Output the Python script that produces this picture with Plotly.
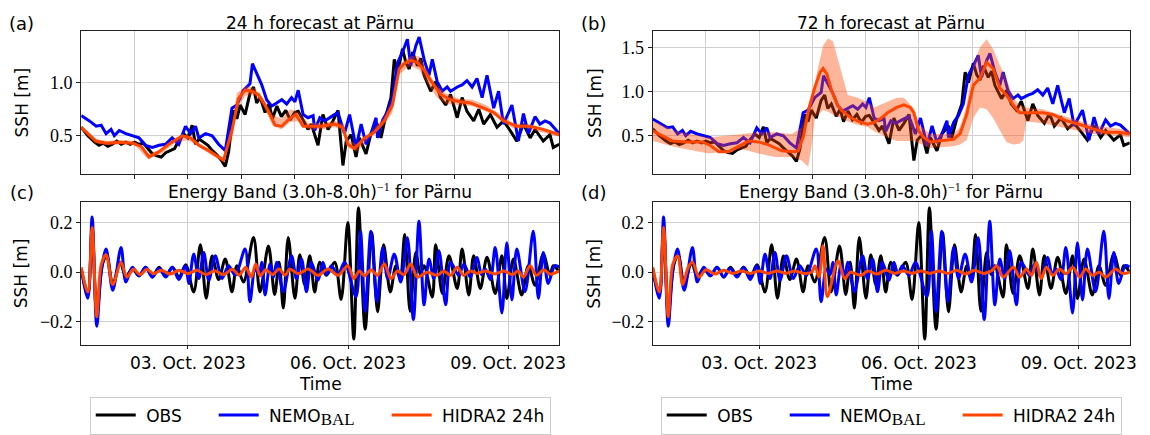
import pandas as pd
import plotly.graph_objects as go

W, H = 1150, 435
T0 = pd.Timestamp("2023-10-01 00:00")
SANS = "DejaVu Sans"
SERIF = "Liberation Serif"

# ---------------- data (hours since 2023-10-01 00:00, SSH in m) ----------------
obs_h = [0, 3, 6, 8, 10, 12, 14, 16, 18, 20, 22, 24, 26, 28, 30, 32, 34, 36, 38, 40,
         42, 44, 46, 48, 49.9, 51.4, 53, 55, 57, 59, 61, 63, 64.8, 66.3, 68.5, 70, 71.5, 73.7, 75.9, 77.5,
         78.9, 80.5, 82.7, 84.5, 86, 88, 90, 92, 94, 96, 97.6, 99.8, 102, 103.5, 106.5, 108.7, 111, 113.2, 115.5, 117.7,
         119.2, 121.4, 123.6, 125.1, 128.1, 130.3, 133.3, 134.8, 137, 139.3, 140.8, 142.3, 144.5, 146, 147.5, 149, 151.2, 152.7, 154.2, 157.2,
         159.4, 161.6, 163.9, 166.1, 169.1, 171.3, 173.5, 176.5, 178.8, 181, 184, 187, 189.9, 192.9, 195.9, 198.9, 201.9, 204.1, 206.3, 207.8,
         210.8, 212.3, 215]
obs_v = [0.58, 0.50, 0.44, 0.41, 0.43, 0.40, 0.42, 0.45, 0.42, 0.44, 0.42, 0.44, 0.42, 0.43, 0.38, 0.33, 0.31, 0.30, 0.34, 0.36,
         0.38, 0.46, 0.52, 0.48, 0.60, 0.42, 0.47, 0.44, 0.41, 0.36, 0.32, 0.27, 0.21, 0.35, 0.74, 0.66, 0.79, 0.70, 0.90, 0.96,
         0.81, 0.86, 0.72, 0.80, 0.66, 0.78, 0.68, 0.74, 0.65, 0.72, 0.73, 0.65, 0.56, 0.61, 0.41, 0.70, 0.56, 0.64, 0.74, 0.22,
         0.45, 0.51, 0.30, 0.48, 0.33, 0.52, 0.61, 0.48, 0.69, 0.86, 1.22, 1.10, 1.32, 1.19, 1.13, 1.29, 1.16, 1.23, 1.07, 0.92,
         1.01, 0.86, 0.79, 0.89, 0.67, 0.86, 0.73, 0.64, 0.75, 0.61, 0.70, 0.58, 0.64, 0.55, 0.45, 0.61, 0.48, 0.56, 0.50, 0.45,
         0.51, 0.39, 0.42]

nemo_h = [0, 3.7, 6.7, 9, 11.2, 13.4, 14.9, 17.1, 20.1, 23.1, 26, 29, 32, 35, 37.9, 40.9, 43.9, 46.9, 49.2, 51.4,
          52.9, 55.9, 58.9, 61.8, 64.8, 67.8, 70, 73, 75.9, 77, 78.9, 81.2, 83.4, 85.7, 87.9, 90.2, 92.4, 94.6, 96.1, 97.6,
          99.8, 102, 104.3, 105, 107.3, 109.5, 113.2, 115.5, 118.4, 120.7, 123.6, 125.9, 128.1, 130.3, 132.6, 133.3, 135.6, 137.8, 140, 142.3,
          144.5, 146.7, 148.2, 150.5, 152, 154.2, 156.4, 157.9, 160.1, 162.4, 164.6, 166.1, 169.1, 171.3, 173.5, 175.8, 178, 180.3, 182.5, 185.5,
          187.7, 189.9, 193.7, 196.6, 198.9, 201.1, 204.1, 206.3, 208.6, 210.8, 215]
nemo_v = [0.69, 0.64, 0.59, 0.60, 0.52, 0.56, 0.50, 0.55, 0.52, 0.50, 0.48, 0.41, 0.39, 0.41, 0.42, 0.48, 0.42, 0.59, 0.52, 0.59,
          0.48, 0.52, 0.50, 0.42, 0.36, 0.76, 0.79, 0.93, 0.99, 1.18, 1.09, 0.98, 0.84, 0.78, 0.81, 0.84, 0.80, 0.86, 0.82, 0.93,
          0.70, 0.67, 0.69, 0.55, 0.67, 0.64, 0.69, 0.72, 0.52, 0.70, 0.39, 0.61, 0.42, 0.52, 0.67, 0.48, 0.65, 0.73, 0.86, 1.19,
          1.29, 1.41, 1.16, 1.35, 1.43, 1.22, 1.07, 1.22, 1.01, 0.92, 0.96, 0.92, 0.96, 0.98, 1.02, 0.96, 1.04, 0.86, 1.07, 0.76,
          0.92, 0.61, 0.79, 0.45, 0.71, 0.52, 0.68, 0.61, 0.64, 0.62, 0.52]

h24_h = [0, 6.7, 11.2, 17, 23.1, 27, 30.5, 35, 39.4, 45.4, 49.2, 52.9, 57.4, 61.8, 64, 67.8, 70.7, 73.7, 76.7, 79.7,
         82.7, 84.9, 87.2, 90.2, 93.1, 96.5, 99.8, 103.5, 108, 114, 117.7, 119.9, 122.9, 127.4, 131.8, 136.3, 140, 143, 145.2, 148.2,
         151.2, 154.2, 157.2, 161.6, 166.1, 170.6, 175, 181, 185.5, 189.9, 195.9, 201.9, 207.8, 215]
h24_v = [0.58, 0.45, 0.43, 0.44, 0.43, 0.40, 0.30, 0.35, 0.42, 0.50, 0.48, 0.41, 0.36, 0.30, 0.27, 0.55, 0.85, 0.93, 0.92, 0.89,
         0.79, 0.70, 0.60, 0.59, 0.65, 0.70, 0.59, 0.59, 0.59, 0.61, 0.58, 0.42, 0.38, 0.48, 0.53, 0.64, 0.79, 1.13, 1.18, 1.21,
         1.19, 1.12, 1.02, 0.89, 0.84, 0.82, 0.81, 0.76, 0.72, 0.64, 0.59, 0.59, 0.56, 0.51]

h24_band_h = [0, 6, 12, 18, 24, 30, 36, 42, 48, 54, 60, 64, 68, 70, 74, 78, 82, 86, 90, 94, 98, 102, 108, 114, 118, 120,
              124, 130, 136, 140, 143, 148, 152, 156, 160, 164, 170, 176, 182, 188, 194, 200, 206, 215]
h24_band_hi = [0.60, 0.47, 0.45, 0.46, 0.45, 0.33, 0.37, 0.47, 0.51, 0.42, 0.34, 0.29, 0.62, 0.90, 0.97, 0.95, 0.85, 0.70, 0.66,
               0.75, 0.72, 0.62, 0.62, 0.64, 0.61, 0.46, 0.42, 0.53, 0.67, 0.84, 1.17, 1.25, 1.25, 1.10, 0.97, 0.90, 0.85, 0.84,
               0.79, 0.71, 0.62, 0.61, 0.58, 0.53]
h24_band_lo = [0.56, 0.43, 0.41, 0.42, 0.41, 0.28, 0.33, 0.43, 0.46, 0.38, 0.30, 0.25, 0.48, 0.76, 0.88, 0.88, 0.78, 0.60, 0.56,
               0.63, 0.64, 0.56, 0.56, 0.58, 0.55, 0.39, 0.35, 0.49, 0.60, 0.72, 1.08, 1.16, 1.12, 0.98, 0.86, 0.80, 0.79, 0.78,
               0.73, 0.67, 0.57, 0.57, 0.54, 0.49]

h72_h = [0, 4.5, 9, 15, 22.4, 26, 29.8, 34.3, 38, 43.2, 47.7, 52, 58.1, 64.1, 65.6, 68, 70.1, 73.1, 75.5, 76.8,
         78.5, 80.5, 83, 85, 89.5, 93, 96.9, 99.8, 103, 105.8, 110, 113.2, 116, 117.7, 119.9, 122.1, 125.1, 129.6, 135.6, 138.5,
         141.5, 144.5, 147.5, 150.5, 153.4, 156.4, 159.4, 162.4, 165.3, 168.3, 175.8, 180.2, 186.2, 192.2, 198.1, 204.1, 210, 215]
h72_v = [0.555, 0.50, 0.44, 0.43, 0.43, 0.39, 0.32, 0.32, 0.37, 0.44, 0.43, 0.40, 0.33, 0.32, 0.33, 0.50, 0.78, 1.05, 1.22, 1.26,
         1.20, 1.02, 0.86, 0.79, 0.70, 0.66, 0.63, 0.65, 0.70, 0.76, 0.82, 0.85, 0.82, 0.76, 0.555, 0.48, 0.43, 0.44, 0.46, 0.52,
         0.74, 1.07, 1.15, 1.33, 1.26, 1.04, 0.96, 0.85, 0.76, 0.76, 0.76, 0.74, 0.67, 0.63, 0.58, 0.54, 0.54, 0.52]

h72_band_h = [0, 10.4, 25.3, 40.2, 47.7, 55.1, 62.6, 67.1, 70.1, 72, 73.1, 76.8, 79, 81.2, 85, 87.9, 92.4, 96.9, 99.8, 105.8,
              110, 113.2, 117.7, 120, 125, 135.6, 138.5, 141.5, 144.5, 147.5, 150.5, 153.4, 156.4, 159.4, 162.4, 165.3, 167,
              168.3, 175.8, 186.2, 198.1, 210, 215]
h72_band_hi = [0.67, 0.55, 0.48, 0.52, 0.54, 0.54, 0.52, 0.59, 0.85, 1.0, 1.11, 1.52, 1.60, 1.57, 1.22, 0.96, 0.93, 0.88, 0.82,
               0.88, 0.93, 0.93, 0.81, 0.63, 0.52, 0.52, 0.60, 0.85, 1.30, 1.50, 1.59, 1.48, 1.30, 1.15, 0.93, 0.85, 0.83, 0.82,
               0.80, 0.72, 0.62, 0.58, 0.56]
h72_band_lo = [0.44, 0.37, 0.30, 0.35, 0.30, 0.26, 0.26, 0.22, 0.15, 0.45, 0.70, 0.79, 0.77, 0.74, 0.70, 0.66, 0.62, 0.60, 0.55,
               0.48, 0.44, 0.44, 0.44, 0.42, 0.36, 0.38, 0.40, 0.45, 0.70, 0.82, 0.80, 0.70, 0.56, 0.43, 0.40, 0.41, 0.45, 0.66,
               0.64, 0.58, 0.52, 0.50, 0.48]

# band-passed (3h-8h) signals: extrema
obs_bp_h = [0, 3.0, 4.9, 7.0, 9.5, 11.5, 14.2, 17.5, 20.1, 23, 26, 29, 32, 35, 38, 41, 44, 47, 50.6, 53.6,
            56.2, 58.9, 61.8, 64.8, 67.8, 70.0, 73.0, 77.5, 80.4, 84.2, 87.0, 89.0, 90.9, 93.1, 96.1, 98.3, 100.5, 102.8, 105.0, 107.3,
            110.2, 114.0, 116.9, 119.9, 122.6, 124.7, 127.7, 130.6, 133.3, 136.0, 139.0, 141.5, 143.5, 145.5, 147.9, 150.5, 152.5, 154.2, 157.9, 159.4,
            162.4, 165.4, 169.1, 171.3, 174.3, 176.5, 179.5, 182.5, 186.2, 189.2, 191.4, 194.4, 198.1, 201.1, 204.1, 207.8, 210.8, 212.3, 215]
obs_bp_v = [0.01, -0.09, 0.18, -0.17, 0.03, 0.07, -0.05, 0.04, -0.02, 0.015, -0.015, 0.02, -0.02, 0.02, -0.015, 0.02, -0.02, 0.03, -0.08, 0.11,
            -0.105, 0.065, -0.03, 0.053, -0.079, 0.026, -0.04, 0.14, -0.08, 0.105, -0.09, 0.04, -0.145, 0.14, -0.105, 0.07, -0.05, 0.066, -0.08, 0.04,
            -0.013, 0.04, -0.11, 0.20, -0.27, 0.26, -0.23, 0.16, -0.16, 0.11, -0.08, 0.026, -0.03, 0.152, -0.158, 0.079, -0.01, 0.026, -0.10, 0.11,
            -0.086, 0.066, -0.066, 0.093, -0.092, 0.066, -0.066, 0.060, -0.086, 0.066, -0.106, 0.053, -0.092, 0.026, -0.053, 0.073, -0.013, 0.026, 0.0]

nemo_bp_h = [0, 3.0, 4.9, 7.0, 9.0, 11.2, 14.2, 17.9, 20.1, 23, 26, 29, 32, 35, 38, 41, 43.9, 46.9, 48.4, 50.6,
             52.9, 55.1, 57.4, 60.3, 63.3, 66.3, 69.3, 73.7, 75.9, 78.2, 80, 81.2, 82.7, 84.9, 86.5, 87.9, 90.9, 94.6, 96.8, 99.1,
             101.3, 103.5, 106.5, 108.7, 110.5, 112.5, 115.5, 118.4, 123.6, 125.6, 127.7, 130.3, 133.0, 135.6, 137.8, 140.8, 143.7, 146.7, 149.4, 151.9,
             154.2, 156.4, 158.6, 160.9, 163.9, 166.1, 169.8, 172.1, 175.0, 178.0, 180, 181.7, 184, 186.2, 189.2, 191.4, 193.7, 195.9, 199.6, 203.3,
             205.6, 207.8, 210.0, 213.0, 215]
nemo_bp_v = [0.013, -0.105, 0.222, -0.218, 0.0, 0.093, -0.073, 0.099, -0.04, 0.02, -0.015, 0.02, -0.02, 0.015, -0.02, 0.02, -0.03, 0.026, -0.046, 0.073,
             -0.026, 0.079, -0.033, 0.066, -0.026, 0.026, -0.013, 0.093, -0.119, 0.013, -0.01, 0.04, -0.092, 0.033, -0.02, 0.04, -0.079, 0.066, -0.026, 0.053,
             -0.079, 0.04, -0.033, 0.04, -0.01, 0.026, -0.013, 0.04, -0.099, 0.165, -0.158, 0.165, -0.119, 0.099, -0.026, 0.073, -0.04, 0.139, -0.191, 0.205,
             -0.132, 0.053, -0.026, 0.086, -0.132, 0.04, -0.013, 0.033, -0.02, 0.06, -0.01, 0.013, -0.03, 0.099, -0.165, 0.119, -0.112, 0.093, -0.079, 0.165,
             -0.106, 0.079, -0.046, 0.026, 0.02]

h24_bp_h = [0, 3.0, 4.9, 7.0, 9.0, 11.2, 14.2, 17.9, 20.5, 23.5, 26.5, 29.5, 32.5, 36, 40, 44, 48, 52, 56, 60,
            64, 68, 71, 74, 76.5, 78.5, 80.5, 83, 86, 89, 91.6, 93.8, 97.6, 102, 106.5, 111, 115.5, 119.9, 122.6, 125.1,
            127.4, 130.3, 133.3, 136.3, 139.3, 142.3, 145.2, 148.2, 151.2, 155.7, 160.1, 163.1, 166.1, 169.1, 172, 175, 178, 182, 186, 190,
            194, 196.5, 198.9, 201.9, 204.8, 208, 211, 215]
h24_bp_v = [0.02, -0.08, 0.18, -0.18, 0.03, 0.07, -0.05, 0.04, -0.02, 0.012, -0.01, 0.012, -0.006, 0.008, -0.008, 0.008, -0.006, 0.008, -0.01, 0.006,
            -0.01, 0.012, -0.012, 0.02, -0.02, 0.033, -0.015, 0.01, -0.01, 0.013, -0.013, 0.013, -0.007, 0.013, -0.013, 0.013, -0.013, 0.026, -0.026, 0.005,
            -0.015, 0.01, -0.013, 0.033, -0.026, 0.005, -0.01, 0.033, -0.02, 0.0, -0.013, 0.005, -0.013, 0.02, -0.013, 0.005, -0.005, 0.005, -0.008, 0.005,
            -0.01, 0.005, -0.02, 0.026, -0.013, 0.01, -0.008, 0.005]

h72_bp_h = [0, 3.0, 4.9, 7.0, 9.0, 11.3, 13.5, 16, 17.9, 20.9, 24, 28, 32, 36, 40, 44, 48, 52, 56, 60,
            64, 68, 71.6, 73.1, 74.9, 76.8, 78.7, 83.5, 86.5, 89, 91, 94, 97, 101, 105, 109, 113, 117, 121, 125,
            129, 133, 137, 141, 145, 149, 153, 155, 158, 162.5, 165.4, 168.4, 170.7, 172.9, 175.1, 177.4, 180.3, 183.3, 186.3, 189.3,
            192.3, 195.2, 198.2, 201.2, 204.2, 208.6, 211.6, 215]
h72_bp_v = [0.02, -0.08, 0.18, -0.18, 0.03, 0.065, -0.05, 0.02, 0.04, -0.02, 0.01, -0.008, 0.008, -0.005, 0.005, -0.005, 0.005, -0.005, 0.005, -0.005,
            0.005, -0.005, 0.0, 0.026, -0.02, 0.106, -0.099, 0.046, -0.026, 0.0, -0.005, -0.013, 0.005, -0.008, 0.008, -0.005, 0.005, -0.005, 0.005, -0.005,
            0.005, -0.005, 0.008, -0.008, 0.008, -0.005, 0.008, 0.026, -0.02, 0.02, -0.02, 0.013, -0.013, 0.04, -0.026, 0.02, -0.013, 0.013, -0.007, 0.02,
            -0.02, 0.013, -0.013, 0.0, -0.02, 0.013, -0.005, 0.0]

top_yticks = [[0.5, 1.0], [0.5, 1.0, 1.5]]
top_yticktext = [["0.5", "1.0"], ["0.5", "1.0", "1.5"]]
top_yrange = [[0.142, 1.484], [0.07, 1.68]]
bp_yticks = [-0.2, 0.0, 0.2]
bp_yticktext = ["\u22120.2", "0.0", "0.2"]
bp_yrange = [-0.292, 0.282]
date_ticks = ["2023-10-03", "2023-10-06", "2023-10-09"]
date_ticktext = ["03. Oct. 2023", "06. Oct. 2023", "09. Oct. 2023"]
day_ticks = ["2023-10-%02d" % d for d in range(2, 10)]
top_titles = ["24 h forecast at P\u00e4rnu", "72 h forecast at P\u00e4rnu"]
bp_title = ("Energy Band (3.0h-8.0h)<sup><span style='font-family:Liberation Serif'>\u22121</span></sup>"
            " for P\u00e4rnu")
panel_tags = ["(a)", "(b)", "(c)", "(d)"]
NB = "\u00a0"
legend_names = [NB + "OBS" + NB * 5,
                NB + "NEMO<sub><span style='font-family:Liberation Serif;font-size:17px'>BAL</span></sub>" + NB * 5,
                NB + "HIDRA2 24h"]


def to_time(hours):
    return [T0 + pd.Timedelta(hours=float(h)) for h in hours]


C_OBS, C_NEMO, C_HID = "black", "#0000ff", "#ff4500"
C_BAND = "rgba(255,69,0,0.4)"
LW = 3

fig = go.Figure()

cols = [(81.7, 562.7), (656.7, 1136.7)]
top_row = (32, 177)
bot_row = (206, 351)

hid_sets = [(h24_h, h24_v, h24_band_h, h24_band_hi, h24_band_lo, h24_bp_h, h24_bp_v),
            (h72_h, h72_v, h72_band_h, h72_band_hi, h72_band_lo, h72_bp_h, h72_bp_v)]

for c in range(2):
    xt = "x" if c == 0 else "x2"
    yt = "y" if c == 0 else "y2"
    xb = "x3" if c == 0 else "x4"
    yb = "y3" if c == 0 else "y4"
    hh, hv, bh, bhi, blo, bph, bpv = hid_sets[c]
    # top panel
    fig.add_trace(go.Scatter(x=to_time(obs_h), y=obs_v, mode="lines", line=dict(color=C_OBS, width=LW),
                             xaxis=xt, yaxis=yt, showlegend=False))
    fig.add_trace(go.Scatter(x=to_time(nemo_h), y=nemo_v, mode="lines", line=dict(color=C_NEMO, width=LW),
                             xaxis=xt, yaxis=yt, showlegend=False))
    fig.add_trace(go.Scatter(x=to_time(bh) + to_time(bh[::-1]), y=bhi + blo[::-1], mode="lines",
                             fill="toself", fillcolor=C_BAND, line=dict(width=0), xaxis=xt, yaxis=yt,
                             showlegend=False, hoverinfo="skip"))
    fig.add_trace(go.Scatter(x=to_time(hh), y=hv, mode="lines", line=dict(color=C_HID, width=LW),
                             xaxis=xt, yaxis=yt, showlegend=False))
    # bottom panel
    lg = "legend" if c == 0 else "legend2"
    fig.add_trace(go.Scatter(x=to_time(obs_bp_h), y=obs_bp_v, mode="lines", name=legend_names[0],
                             line=dict(color=C_OBS, width=LW, shape="spline", smoothing=0.9),
                             xaxis=xb, yaxis=yb, legend=lg))
    fig.add_trace(go.Scatter(x=to_time(nemo_bp_h), y=nemo_bp_v, mode="lines", name=legend_names[1],
                             line=dict(color=C_NEMO, width=LW, shape="spline", smoothing=0.9),
                             xaxis=xb, yaxis=yb, legend=lg))
    fig.add_trace(go.Scatter(x=to_time(bph), y=bpv, mode="lines", name=legend_names[2],
                             line=dict(color=C_HID, width=LW, shape="spline", smoothing=0.9),
                             xaxis=xb, yaxis=yb, legend=lg))

xrange = [T0, T0 + pd.Timedelta(hours=215)]
axis_common = dict(showline=True, mirror=True, linecolor="#222222", linewidth=1, ticks="outside", ticklen=4,
                   tickcolor="#222222", showgrid=True, gridcolor="#d0d0d0", gridwidth=1, zeroline=False)

layout = dict(width=W, height=H, margin=dict(l=0, r=0, t=0, b=0), paper_bgcolor="white", plot_bgcolor="white",
              showlegend=True, font=dict(family=SANS, size=17, color="black"))

for c in range(2):
    x0, x1 = cols[c]
    dom_x = [x0 / W, x1 / W]
    n_bot = 3 + c
    kx_t = "xaxis" if c == 0 else "xaxis2"
    ky_t = "yaxis" if c == 0 else "yaxis2"
    kx_b = "xaxis%d" % n_bot
    ky_b = "yaxis%d" % n_bot
    layout[kx_t] = dict(axis_common, domain=dom_x, anchor="y" if c == 0 else "y2", type="date", range=xrange,
                        tickvals=day_ticks, showticklabels=False)
    layout[ky_t] = dict(axis_common, domain=[1 - top_row[1] / H, 1 - top_row[0] / H], anchor="x" if c == 0 else "x2",
                        range=top_yrange[c], tickvals=top_yticks[c], ticktext=top_yticktext[c],
                        tickfont=dict(family=SERIF, size=18, color="black"))
    layout[kx_b] = dict(axis_common, domain=dom_x, anchor="y%d" % n_bot, type="date", range=xrange,
                        tickvals=date_ticks, ticktext=date_ticktext, ticklen=3,
                        tickfont=dict(family=SANS, size=17, color="black"))
    layout[ky_b] = dict(axis_common, domain=[1 - bot_row[1] / H, 1 - bot_row[0] / H], anchor="x%d" % n_bot,
                        range=bp_yrange, tickvals=bp_yticks, ticktext=bp_yticktext,
                        tickfont=dict(family=SERIF, size=18, color="black"))

legend_common = dict(orientation="h", yanchor="top", y=1 - 404 / H, xanchor="center", bgcolor="white",
                     bordercolor="#cccccc", borderwidth=1, font=dict(family=SANS, size=17, color="black"),
                     itemwidth=40, tracegroupgap=0)
layout["legend"] = dict(legend_common, x=((cols[0][0] + cols[0][1]) / 2) / W)
layout["legend2"] = dict(legend_common, x=((cols[1][0] + cols[1][1]) / 2) / W)

ann = []


def add_text(text, xp, yp, size=17, angle=0, family=SANS):
    ann.append(dict(text=text, x=xp / W, y=1 - yp / H, xref="paper", yref="paper", showarrow=False,
                    xanchor="center", yanchor="middle", textangle=angle,
                    font=dict(family=family, size=size, color="black")))


for c in range(2):
    x0, x1 = cols[c]
    cx = (x0 + x1) / 2
    add_text(top_titles[c], cx, 23)
    add_text(bp_title, cx, 195)
    add_text("Time", cx, 391)
    lab_x = 22 if c == 0 else 598
    add_text("SSH [m]", lab_x, 104.5, angle=-90)
    add_text("SSH [m]", lab_x, 278.5, angle=-90)
    tag_x = 22 if c == 0 else 597
    add_text(panel_tags[c], tag_x, 24, size=18)
    add_text(panel_tags[c + 2], tag_x, 196, size=18)

layout["annotations"] = ann
fig.update_layout(**layout)
fig.write_html("out.html")
